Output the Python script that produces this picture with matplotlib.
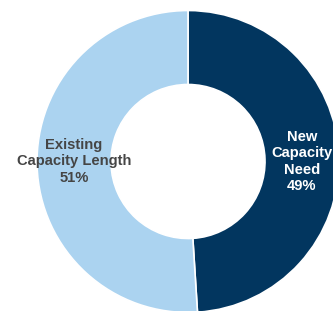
import matplotlib

matplotlib.use("Agg")
import matplotlib.pyplot as plt
import numpy as np

plt.rcParams.update({"font.family": ["Liberation Sans", "DejaVu Sans"]})

LABELS = ["New\nCapacity\nNeed", "Existing\nCapacity Length"]
SHARES = [49, 51]
COLORS = ["#02365f", "#abd3f0"]
TEXT_COLORS = ["white", "#454545"]

fig = plt.figure(figsize=(3.33, 3.11), dpi=100)
ax = fig.add_axes([0, 0, 1, 1])
wedges, _ = ax.pie(
    SHARES,
    colors=COLORS,
    startangle=90,
    counterclock=False,
    radius=1.0,
    wedgeprops={"width": 0.49, "edgecolor": "white", "linewidth": 1.2},
)

# labels sit mid-ring, at the middle angle of each wedge
r_mid = 0.755
for w, lab, share, tc in zip(wedges, LABELS, SHARES, TEXT_COLORS):
    ang = np.deg2rad((w.theta1 + w.theta2) / 2)
    ax.text(r_mid * np.cos(ang), 0.0, f"{lab}\n{share}%", ha="center", va="center",
            color=tc, fontsize=10.6, fontweight="bold", linespacing=1.22)

# pixel mapping: centre at (188, 161.5), radius 151 px
ax.set_xlim(-188 / 151, (333 - 188) / 151)
ax.set_ylim(-(311 - 161.5) / 151, 161.5 / 151)
ax.set_aspect("auto")
ax.axis("off")

fig.savefig("out.png")
